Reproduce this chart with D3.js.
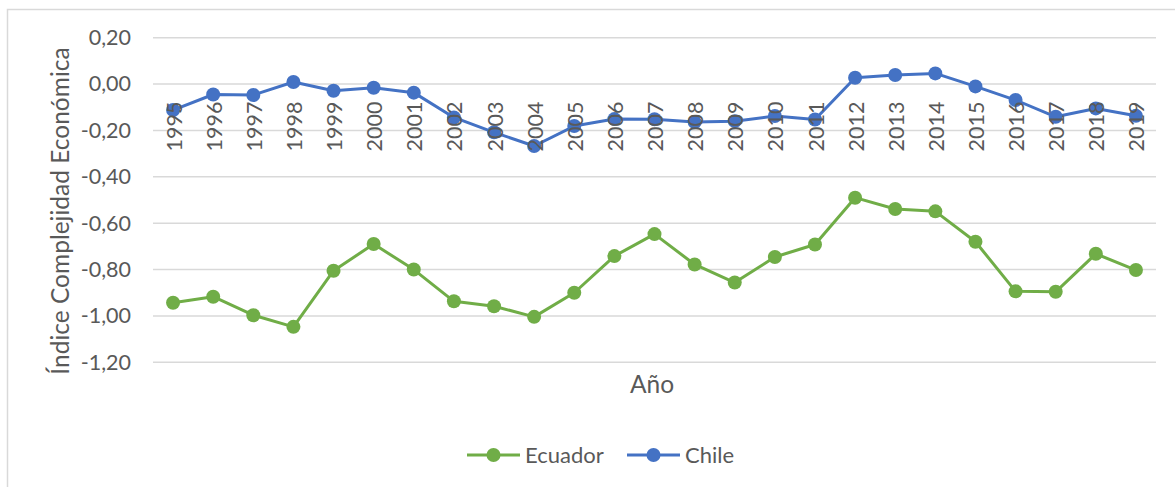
<!DOCTYPE html>
<html>
<head>
<meta charset="utf-8">
<script src="https://cdn.jsdelivr.net/npm/d3@7"></script>
<style>
  html, body { margin: 0; padding: 0; background: #ffffff; }
  svg { display: block; }
  text { font-family: Lato, "Open Sans", sans-serif; fill: #595959; }
</style>
</head>
<body>
<svg id="chart" width="1175" height="487"></svg>
<script>
// Economic Complexity Index, Ecuador vs Chile, 1995–2019
const years = ["1995","1996","1997","1998","1999","2000","2001","2002","2003","2004",
               "2005","2006","2007","2008","2009","2010","2011","2012","2013","2014",
               "2015","2016","2017","2018","2019"];
const ecuador = [-0.943,-0.917,-0.997,-1.047,-0.805,-0.690,-0.800,-0.937,-0.958,-1.004,
                 -0.900,-0.742,-0.647,-0.778,-0.856,-0.746,-0.692,-0.490,-0.539,-0.549,
                 -0.680,-0.894,-0.896,-0.732,-0.802];
const chile = [-0.112,-0.045,-0.047,0.009,-0.029,-0.016,-0.037,-0.144,-0.208,-0.267,
               -0.181,-0.151,-0.152,-0.164,-0.160,-0.138,-0.153,0.027,0.039,0.046,
               -0.010,-0.069,-0.141,-0.105,-0.137];
const yTicks = [0.2, 0, -0.2, -0.4, -0.6, -0.8, -1.0, -1.2];
const seriesList = [
  { name: "Ecuador", values: ecuador, color: "#70AD47" },
  { name: "Chile", values: chile, color: "#4472C4" }
];

const svg = d3.select("#chart");
const fmt = v => d3.format(".2f")(v).replace("−", "-").replace(".", ",");

// outer chart frame (only left and top edges fall inside the view)
svg.append("rect")
  .attr("x", 7.5).attr("y", 9.5)
  .attr("width", 1300).attr("height", 600)
  .attr("fill", "none").attr("stroke", "#d9d9d9").attr("stroke-width", 1.5);

const x = d3.scaleBand().domain(years).range([153, 1156]).padding(0);
const y = d3.scaleLinear().domain([-1.2, 0.2]).range([362.3, 37.7]);

// horizontal gridlines
svg.append("g").selectAll("line").data(yTicks).join("line")
  .attr("x1", 153).attr("x2", 1156)
  .attr("y1", d => y(d)).attr("y2", d => y(d))
  .attr("stroke", "#d9d9d9").attr("stroke-width", 1.5);

// y axis tick labels
const yAxis = d3.axisLeft(y).tickValues(yTicks).tickSize(0).tickPadding(0).tickFormat(fmt);
const gy = svg.append("g").attr("transform", "translate(131,0)").call(yAxis);
gy.select(".domain").remove();
gy.selectAll("text")
  .attr("font-size", 21.5).attr("fill", "#595959")
  .style("font-family", "Lato, sans-serif");

// series lines and markers
const line = d3.line().x((d, i) => x(years[i]) + x.bandwidth() / 2).y(d => y(d));
seriesList.forEach(s => {
  const g = svg.append("g");
  g.append("path").datum(s.values)
    .attr("d", line).attr("fill", "none")
    .attr("stroke", s.color).attr("stroke-width", 3).attr("stroke-linejoin", "round");
  g.selectAll("circle").data(s.values).join("circle")
    .attr("cx", (d, i) => x(years[i]) + x.bandwidth() / 2)
    .attr("cy", d => y(d))
    .attr("r", 7).attr("fill", s.color);
});

// category axis labels, rotated, placed just below the zero line
const xAxis = d3.axisBottom(x).tickSize(0).tickPadding(0);
const gx = svg.append("g").attr("transform", `translate(0,${y(0)})`).call(xAxis);
gx.select(".domain").remove();
gx.selectAll("text")
  .attr("font-size", 21.5).attr("fill", "#595959")
  .style("font-family", "Lato, sans-serif")
  .attr("text-anchor", "end")
  .attr("dy", "0.35em")
  .attr("y", 0)
  .attr("transform", "translate(1,17.5) rotate(-90)");

// axis titles
svg.append("text")
  .attr("transform", "translate(69,211) rotate(-90)")
  .attr("text-anchor", "middle")
  .attr("font-size", 24.5)
  .text("Índice Complejidad Económica");
svg.append("text")
  .attr("x", 652).attr("y", 393)
  .attr("text-anchor", "middle")
  .attr("font-size", 24.5)
  .text("Año");

// legend
const legendItems = [
  { s: seriesList[0], x0: 467 },
  { s: seriesList[1], x0: 627 }
];
const lg = svg.append("g");
legendItems.forEach(it => {
  const g = lg.append("g").attr("transform", `translate(${it.x0},455)`);
  g.append("line").attr("x1", 0).attr("x2", 53).attr("y1", 0).attr("y2", 0)
    .attr("stroke", it.s.color).attr("stroke-width", 3);
  g.append("circle").attr("cx", 26.5).attr("cy", 0).attr("r", 7).attr("fill", it.s.color);
  g.append("text").attr("x", 58).attr("y", 0).attr("dy", "0.35em")
    .attr("font-size", 22).text(it.s.name);
});
</script>
</body>
</html>
